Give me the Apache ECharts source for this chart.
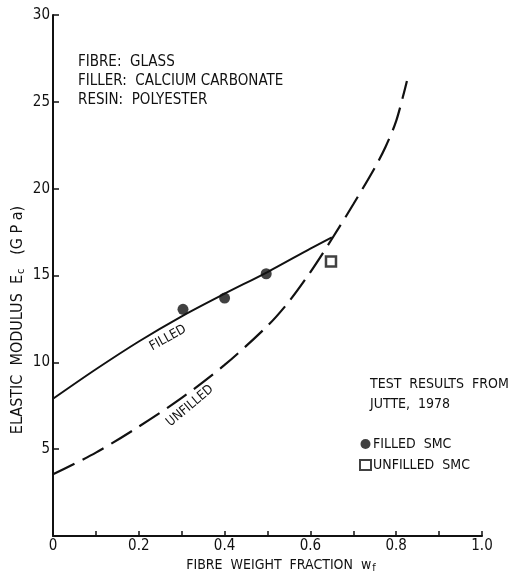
<!DOCTYPE html>
<html>
<head>
<meta charset="utf-8">
<script src="https://cdn.jsdelivr.net/npm/echarts@6/dist/echarts.min.js"></script>
<style>html,body{margin:0;padding:0;background:#fff;}#c{width:511px;height:578px;}</style>
</head>
<body>
<div id="c"></div>
<script>
// Data
var filledCurve = [[0, 7.9], [0.1, 9.6], [0.2, 11.2], [0.3, 12.65], [0.4, 13.95], [0.5, 15.2], [0.6, 16.55], [0.65, 17.2]];
var unfilledCurve = [[0, 3.55], [0.1, 4.8], [0.2, 6.3], [0.3, 7.95], [0.4, 9.85], [0.5, 12.1], [0.55, 13.5], [0.6, 15.2], [0.65, 17.1], [0.7, 19.1], [0.75, 21.2], [0.775, 22.4], [0.8, 23.9], [0.825, 26.2]];
var filledSMC = [[0.303, 13.05], [0.40, 13.7], [0.497, 15.1]];
var unfilledSMC = [[0.648, 15.8]];
var xTickLabels = {'0': '0', '0.2': '0.2', '0.4': '0.4', '0.6': '0.6', '0.8': '0.8', '1': '1.0'};
var infoLines = ['FIBRE:  GLASS', 'FILLER:  CALCIUM CARBONATE', 'RESIN:  POLYESTER'];
var testLines = ['TEST  RESULTS  FROM', 'JUTTE,  1978'];

var FONT = '"DejaVu Sans Condensed", "Liberation Sans Narrow", sans-serif';
var chart = echarts.init(document.getElementById('c'));
var graphics = [];
infoLines.forEach(function (t, i) {
  graphics.push({type: 'text', left: 78, top: 55 + i * 19, style: {text: t, font: '15px ' + FONT, fill: '#111'}});
});
testLines.forEach(function (t, i) {
  graphics.push({type: 'text', left: 370, top: 377 + i * 20, style: {text: t, font: '14px ' + FONT, fill: '#111'}});
});
graphics.push({
  type: 'text', x: 18, y: 320, rotation: Math.PI / 2,
  style: {
    text: '{a|ELASTIC  MODULUS  E}{s|c}{a|   (G P a)}',
    align: 'center', verticalAlign: 'middle',
    rich: {a: {font: '16px ' + FONT, fill: '#111', lineHeight: 18, verticalAlign: 'middle'},
           s: {font: '11px ' + FONT, fill: '#111', lineHeight: 18, verticalAlign: 'bottom', padding: [6, 0, 0, 1]}}
  }
});
graphics.push({
  type: 'text', x: 281, y: 565,
  style: {
    text: '{a|FIBRE  WEIGHT  FRACTION  w}{s|f}',
    align: 'center', verticalAlign: 'middle',
    rich: {a: {font: '14px ' + FONT, fill: '#111', lineHeight: 18, verticalAlign: 'middle'},
           s: {font: '11px ' + FONT, fill: '#111', lineHeight: 18, verticalAlign: 'bottom', padding: [6, 0, 0, 1]}}
  }
});
graphics.push({type: 'text', x: 168, y: 338, rotation: 29 * Math.PI / 180,
  style: {text: 'FILLED', font: '13px ' + FONT, fill: '#111', align: 'center', verticalAlign: 'middle'}});
graphics.push({type: 'text', x: 190, y: 406, rotation: 40 * Math.PI / 180,
  style: {text: 'UNFILLED', font: '13px ' + FONT, fill: '#111', align: 'center', verticalAlign: 'middle'}});

chart.setOption({
  backgroundColor: '#fff',
  animation: false,
  grid: {left: 53, right: 29, top: 15, bottom: 42, containLabel: false},
  legend: {
    orient: 'vertical', left: 354, top: 432, itemGap: 7, itemWidth: 11, itemHeight: 10,
    textStyle: {fontFamily: FONT, fontSize: 14, color: '#111', padding: [0, 0, 0, -3]},
    data: [{name: 'FILLED  SMC', icon: 'circle'}, {name: 'UNFILLED  SMC', icon: 'rect'}]
  },
  xAxis: {
    type: 'value', min: 0, max: 1, interval: 0.1,
    axisLine: {lineStyle: {color: '#111', width: 2}},
    axisTick: {inside: true, length: 5, lineStyle: {color: '#111', width: 1.5}},
    splitLine: {show: false},
    axisLabel: {
      color: '#111', fontFamily: FONT, fontSize: 15, margin: 3,
      formatter: function (v) { var k = String(Math.round(v * 10) / 10); return xTickLabels[k] || ''; }
    }
  },
  yAxis: {
    type: 'value', min: 0, max: 30, interval: 5,
    axisLine: {show: true, lineStyle: {color: '#111', width: 2}},
    axisTick: {show: true, inside: true, length: 6, lineStyle: {color: '#111', width: 1.5}},
    splitLine: {show: false},
    axisLabel: {color: '#111', fontFamily: FONT, fontSize: 15, margin: 3, showMinLabel: false}
  },
  series: [
    {type: 'line', data: filledCurve, smooth: 0.3, symbol: 'none', lineStyle: {color: '#111', width: 2}, silent: true},
    {type: 'line', data: unfilledCurve, smooth: 0.3, symbol: 'none', lineStyle: {color: '#111', width: 2.2, type: [24, 9]}, silent: true},
    {name: 'FILLED  SMC', type: 'scatter', data: filledSMC, symbol: 'circle', symbolSize: 11, itemStyle: {color: '#111'}},
    {name: 'UNFILLED  SMC', type: 'scatter', data: unfilledSMC, symbol: 'rect', symbolSize: 10, itemStyle: {color: '#fff', borderColor: '#111', borderWidth: 2.5}}
  ],
  graphic: graphics
});
</script>
</body>
</html>
